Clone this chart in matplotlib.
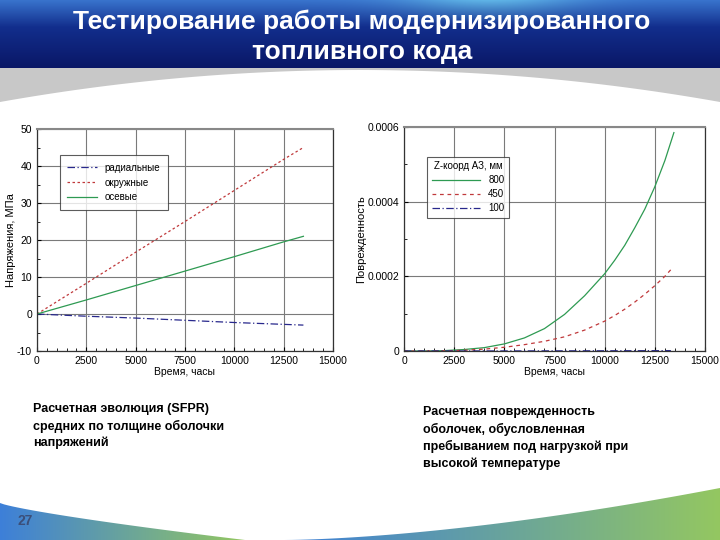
import numpy as np
import matplotlib
matplotlib.use("Agg")
import matplotlib.pyplot as plt
from matplotlib.patches import Polygon
from matplotlib.ticker import MultipleLocator

# left chart: mean stresses over cladding thickness, MPa
t_stress = [0, 2500, 5000, 7500, 10000, 12500, 13500]
radial = [0, -0.6, -1.1, -1.7, -2.3, -2.8, -3.0]
hoop = [0, 8.3, 16.7, 25.0, 33.4, 41.8, 45.0]
axial = [0, 3.8, 7.7, 11.6, 15.5, 19.5, 21.0]
stress_labels = ["радиальные", "окружные", "осевые"]

# right chart: cladding damage vs time for three core heights
t_dmg = [0, 1000, 2000, 3000, 4000, 5000, 6000, 7000, 8000, 9000, 10000,
         10500, 11000, 11500, 12000, 12500, 13000, 13450]
dmg_800 = [0, 0, 0.000001, 0.000004, 0.000009, 0.000019, 0.000035, 0.000060,
           0.000098, 0.000148, 0.000207, 0.000243, 0.000283, 0.000330,
           0.000380, 0.000440, 0.000510, 0.000585]
t_dmg_450 = [0, 1000, 2000, 3000, 4000, 5000, 6000, 7000, 8000, 9000, 10000,
             10500, 11000, 11500, 12000, 12500, 13000, 13300]
dmg_450 = [0, 0, 0.0000005, 0.000002, 0.000005, 0.000010, 0.000017, 0.000026,
           0.000038, 0.000056, 0.000080, 0.000095, 0.000112, 0.000131,
           0.000152, 0.000175, 0.000200, 0.000218]
t_dmg_100 = [0, 5000, 10000, 13300]
dmg_100 = [0, 0.0000002, 0.0000006, 0.000001]
z_labels = ["800", "450", "100"]

title_lines = ["Тестирование работы модернизированного", "топливного кода"]
caption_left = "Расчетная эволюция (SFPR)\nсредних по толщине оболочки\nнапряжений"
caption_right = "Расчетная поврежденность\nоболочек, обусловленная\nпребыванием под нагрузкой при\nвысокой температуре"

plt.rcParams['font.family'] = ['Liberation Sans', 'DejaVu Sans']
plt.rcParams['axes.unicode_minus'] = False

fig = plt.figure(figsize=(7.2, 5.4), dpi=100)
fig.patch.set_facecolor("white")

# ---- slide background ----
bg = fig.add_axes([0, 0, 1, 1], zorder=-5)
bg.set_xlim(0, 720)
bg.set_ylim(540, 0)
bg.axis("off")

# banner gradient
yy = np.linspace(0, 1, 70)[:, None]
xx = np.linspace(0, 1, 360)[None, :]
top = np.array([0.22, 0.45, 0.80])
mid = np.array([0.07, 0.18, 0.55])
low = np.array([0.04, 0.09, 0.40])
w1 = np.clip(yy / 0.4, 0, 1)
w2 = np.clip((yy - 0.4) / 0.6, 0, 1)
img = (1 - w1)[..., None] * top + (w1 - w2)[..., None] * mid + w2[..., None] * low
glow = np.exp(-((xx - 0.68) / 0.12) ** 2) * np.clip(1 - yy / 0.35, 0, 1)
img = img + glow[..., None] * np.array([0.15, 0.25, 0.1])
img = img * np.ones((1, 360, 1))
bg.imshow(np.clip(img, 0, 1), extent=[0, 720, 68, 0], aspect="auto", zorder=0)

# gray swoosh under banner
xs = np.linspace(0, 720, 200)
curve = 70 + 32 * ((xs - 360) / 360) ** 2
bg.fill_between(xs, 68, curve, color="#c8c8c8", zorder=0, lw=0)

# bottom swooshes with blue->green gradient
grad = np.linspace(0, 1, 256)[None, :]
blue = np.array([0.24, 0.50, 0.85])
green = np.array([0.58, 0.78, 0.38])
gimg = (1 - grad)[..., None] * blue + grad[..., None] * green
xl = np.linspace(0, 245, 60)
yl = 503 + 37 * (xl / 245) ** 0.8
poly_l = Polygon(np.vstack([np.column_stack([xl, yl]), [[245, 540], [0, 540]]]),
                 closed=True, facecolor="none", edgecolor="none")
bg.add_patch(poly_l)
im_l = bg.imshow(gimg, extent=[0, 245, 540, 500], aspect="auto", zorder=1)
im_l.set_clip_path(poly_l)
xr = np.linspace(285, 720, 60)
yr = 540 - 52 * ((xr - 285) / 435) ** 1.6
poly_r = Polygon(np.vstack([np.column_stack([xr, yr]), [[720, 540], [285, 540]]]),
                 closed=True, facecolor="none", edgecolor="none")
bg.add_patch(poly_r)
im_r = bg.imshow(gimg, extent=[285, 720, 540, 486], aspect="auto", zorder=1)
im_r.set_clip_path(poly_r)

fig.text(0.503, 1 - 22 / 540, title_lines[0], ha="center", va="center",
         color="white", fontsize=19, fontweight="bold")
fig.text(0.503, 1 - 52 / 540, title_lines[1], ha="center", va="center",
         color="white", fontsize=19, fontweight="bold")
fig.text(0.046, 1 - 403 / 540, caption_left, ha="left", va="top", fontsize=9,
         fontweight="bold", linespacing=1.45)
fig.text(0.588, 1 - 406 / 540, caption_right, ha="left", va="top", fontsize=9,
         fontweight="bold", linespacing=1.45)
fig.text(0.024, 0.022, "27", ha="left", va="bottom", fontsize=10,
         color="#3b4f7a", fontweight="bold")


def style_axes(ax):
    ax.set_facecolor("white")
    ax.grid(True, which="major", color="#7a7a7a", lw=0.8)
    ax.tick_params(which="both", direction="in", labelsize=7.5, length=3)
    ax.tick_params(which="minor", length=2)
    for s in ax.spines.values():
        s.set_color("#333333")
        s.set_linewidth(0.9)
    ax.spines["top"].set_color("#888888")
    ax.spines["top"].set_linewidth(1.5)
    ax.set_xlim(0, 15000)
    ax.xaxis.set_major_locator(MultipleLocator(2500))
    ax.xaxis.set_minor_locator(MultipleLocator(500))
    ax.set_xlabel("Время, часы", fontsize=7.5, labelpad=1)


# ---- left chart ----
ax1 = fig.add_axes([37 / 720, 1 - 351 / 540, 296 / 720, 222 / 540])
style_axes(ax1)
ax1.plot(t_stress, radial, color="#28288c", lw=0.9, ls=(0, (6, 2, 1, 2)), label=stress_labels[0])
ax1.plot(t_stress, hoop, color="#c0393b", lw=0.9, ls=(0, (2, 2)), label=stress_labels[1])
ax1.plot(t_stress, axial, color="#2e9a52", lw=0.9, label=stress_labels[2])
ax1.set_ylim(-10, 50)
ax1.yaxis.set_major_locator(MultipleLocator(10))
ax1.yaxis.set_minor_locator(MultipleLocator(5))
ax1.set_ylabel("Напряжения, МПа", fontsize=8, labelpad=1)
leg1 = ax1.legend(loc="upper left", bbox_to_anchor=(0.06, 0.905), fontsize=7,
                  frameon=True, fancybox=False, edgecolor="#333333",
                  handlelength=3.0, borderpad=0.8, labelspacing=0.5)
leg1.get_frame().set_linewidth(0.8)

# ---- right chart ----
ax2 = fig.add_axes([404 / 720, 1 - 351 / 540, 301 / 720, 224 / 540])
style_axes(ax2)
ax2.plot(t_dmg, dmg_800, color="#2e9a52", lw=0.9, label=z_labels[0])
ax2.plot(t_dmg_450, dmg_450, color="#c0393b", lw=0.9, ls=(0, (3, 3)), label=z_labels[1])
ax2.plot(t_dmg_100, dmg_100, color="#28288c", lw=0.9, ls=(0, (6, 2, 1, 2)), label=z_labels[2])
ax2.set_ylim(0, 0.0006)
ax2.yaxis.set_major_locator(MultipleLocator(0.0002))
ax2.yaxis.set_minor_locator(MultipleLocator(0.0001))
ax2.yaxis.set_major_formatter(plt.FuncFormatter(lambda v, p: "0" if v == 0 else f"{v:g}"))
ax2.set_ylabel("Поврежденность", fontsize=8, labelpad=1)
leg2 = ax2.legend(loc="upper left", bbox_to_anchor=(0.06, 0.89), fontsize=7,
                  title="Z-коорд АЗ, мм", title_fontsize=7, frameon=True,
                  fancybox=False, edgecolor="#333333", handlelength=5.0,
                  borderpad=0.5, labelspacing=0.4)
leg2.get_frame().set_linewidth(0.8)

fig.savefig("out.png", dpi=100)
